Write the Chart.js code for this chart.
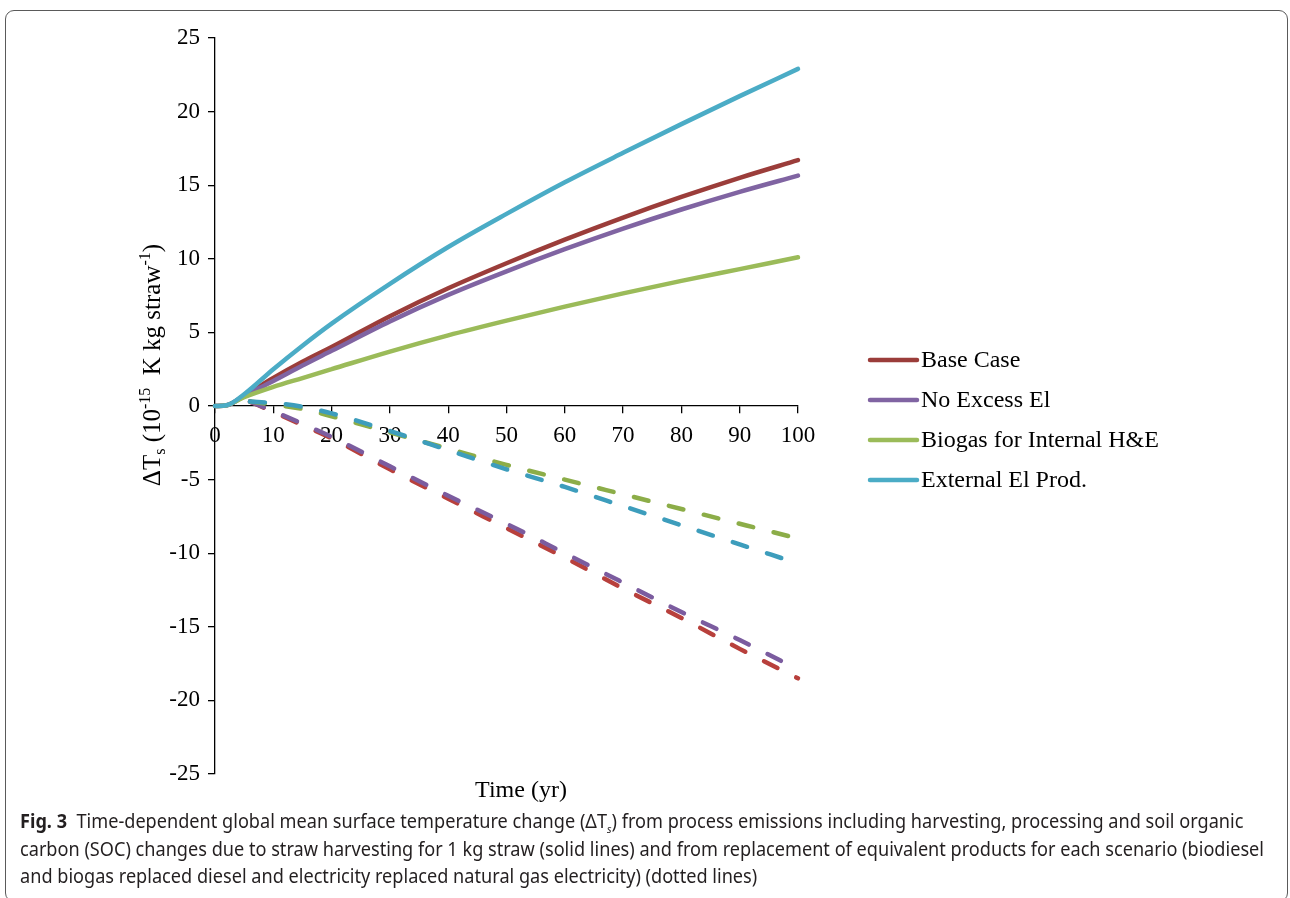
<!DOCTYPE html>
<html>
<head>
<meta charset="utf-8">
<script src="https://cdn.jsdelivr.net/npm/chart.js@4/dist/chart.umd.min.js"></script>
<style>
  body { margin: 0; background: #fff; width: 1290px; height: 898px; position: relative; overflow: hidden; }
  #frame { position: absolute; left: 5px; top: 10px; width: 1283px; height: 892px; border: 1.5px solid #5a5a5a; border-radius: 9px; box-sizing: border-box; }
  #chart { position: absolute; left: 0; top: 0; }
  #caption { position: absolute; left: 20px; top: 808px; font-family: 'Noto Sans'; font-size: 19px; color: #231f20; white-space: nowrap; transform-origin: 0 0; }
  #caption div { display: block; height: 27.5px; line-height: 27.5px; }
  #caption .sub { position: relative; top: 5px; font-size: 11px; font-style: italic; line-height: 0; }
</style>
</head>
<body>
<div id="frame"></div>
<canvas id="chart" width="1290" height="812"></canvas>
<div id="caption">
  <div id="cap1"><b>Fig. 3</b>&nbsp; Time-dependent global mean surface temperature change (ΔT<span class="sub">s</span>) from process emissions including harvesting, processing and soil organic</div>
  <div id="cap2">carbon (SOC) changes due to straw harvesting for 1 kg straw (solid lines) and from replacement of equivalent products for each scenario (biodiesel</div>
  <div id="cap3">and biogas replaced diesel and electricity replaced natural gas electricity) (dotted lines)</div>
</div>
<script>
// years for process emissions (solid) and replacement credits (dashed)
const years = [0, 2, 5, 10, 15, 20, 30, 40, 50, 60, 70, 80, 90, 100];
const dashYears = [6, 10, 15, 20, 30, 40, 50, 60, 70, 80, 90, 100];

const seriesNames = ['Base Case', 'No Excess El', 'Biogas for Internal H&E', 'External El Prod.'];

// solid lines
const baseCase = [0, 0.05, 0.7, 1.9, 3.0, 4.0, 6.1, 8.0, 9.7, 11.3, 12.8, 14.2, 15.5, 16.7];
const noExcessEl = [0, 0.05, 0.7, 1.7, 2.75, 3.75, 5.75, 7.55, 9.15, 10.65, 12.05, 13.35, 14.55, 15.65];
const biogasHE = [0, 0.05, 0.6, 1.3, 1.9, 2.5, 3.7, 4.8, 5.8, 6.75, 7.65, 8.5, 9.3, 10.1];
const externalEl = [0, 0.05, 0.8, 2.5, 4.1, 5.6, 8.3, 10.8, 13.05, 15.2, 17.2, 19.15, 21.05, 22.9];

// dashed lines (replacement)
const baseCaseRep = [0.3, -0.4, -1.3, -2.2, -4.3, -6.3, -8.3, -10.3, -12.4, -14.4, -16.5, -18.5];
const noExcessElRep = [0.3, -0.35, -1.2, -2.1, -4.1, -6.1, -8.0, -10.0, -12.0, -14.0, -15.9, -17.9];
const biogasHERep = [0.3, 0.1, -0.2, -0.7, -1.8, -2.9, -4.0, -5.0, -6.0, -7.0, -8.0, -9.0];
const externalElRep = [0.3, 0.2, -0.05, -0.5, -1.7, -3.0, -4.3, -5.5, -6.8, -8.1, -9.4, -10.7];

const solidColors = ['#9b3d3a', '#8064a2', '#9bbb59', '#4bacc6'];
const dashColors = ['#b8403c', '#7b5c9f', '#8cad48', '#3d9dbc'];

const pts = (xs, ys) => xs.map((x, i) => ({ x, y: ys[i] }));

const solid = [baseCase, noExcessEl, biogasHE, externalEl];
const dashed = [baseCaseRep, noExcessElRep, biogasHERep, externalElRep];
const solidOrder = [3, 2, 1, 0];
const dashOrder = [7, 6, 5, 4];

const datasets = [];
solid.forEach((s, i) => datasets.push({
  label: seriesNames[i],
  data: pts(years, s),
  borderColor: solidColors[i],
  cubicInterpolationMode: 'monotone',
  order: solidOrder[i]
}));
dashed.forEach((s, i) => datasets.push({
  label: seriesNames[i] + ' (replacement)',
  data: pts(dashYears, s),
  borderColor: dashColors[i],
  borderDash: [15, 21],
  cubicInterpolationMode: 'monotone',
  order: dashOrder[i]
}));

const serif = '"Liberation Serif", "Times New Roman", serif';

function drawRich(ctx, parts, x, y) {
  let cx = x;
  parts.forEach(([t, k]) => {
    ctx.font = (k ? 16 : 25) + 'px ' + serif;
    const dy = k === 'sub' ? 5 : k === 'sup' ? -10 : 0;
    ctx.fillText(t, cx, y + dy);
    cx += ctx.measureText(t).width;
  });
  return cx - x;
}
function richWidth(ctx, parts) {
  let w = 0;
  parts.forEach(([t, k]) => {
    ctx.font = (k ? 16 : 25) + 'px ' + serif;
    w += ctx.measureText(t).width;
  });
  return w;
}

const extras = {
  id: 'extras',
  afterDraw(chart) {
    const ctx = chart.ctx;
    ctx.save();
    ctx.fillStyle = '#000';
    ctx.textBaseline = 'alphabetic';
    // y title
    const yParts = [['ΔT'], ['s', 'sub'], [' (10'], ['-15', 'sup'], ['  K kg straw'], ['-1', 'sup'], [')']];
    const w = richWidth(ctx, yParts);
    ctx.save();
    ctx.translate(160, 365);
    ctx.rotate(-Math.PI / 2);
    drawRich(ctx, yParts, -w / 2, 0);
    ctx.restore();
    // x title
    ctx.font = '24px ' + serif;
    ctx.textAlign = 'center';
    ctx.fillText('Time (yr)', 521, 797);
    // legend
    ctx.font = '24px ' + serif;
    ctx.textAlign = 'left';
    ctx.textBaseline = 'middle';
    seriesNames.forEach((name, i) => {
      const y = 360 + i * 40;
      ctx.strokeStyle = solidColors[i];
      ctx.lineWidth = 4.5;
      ctx.lineCap = 'round';
      ctx.beginPath();
      ctx.moveTo(870, y);
      ctx.lineTo(917, y);
      ctx.stroke();
      ctx.fillText(name, 921, y + 1);
    });
    ctx.restore();
  }
};

const tickFont = { family: serif, size: 23 };

new Chart(document.getElementById('chart'), {
  type: 'line',
  data: { datasets },
  options: {
    responsive: false,
    animation: false,
    layout: { padding: { left: 0, top: 38, right: 492, bottom: 38 } },
    plugins: { legend: { display: false }, tooltip: { enabled: false } },
    elements: {
      point: { radius: 0 },
      line: { borderWidth: 4.5, borderCapStyle: 'round', borderJoinStyle: 'round' }
    },
    datasets: { line: { clip: false } },
    scales: {
      x: {
        type: 'linear',
        position: { y: 0 },
        min: 0, max: 100,
        ticks: { stepSize: 10, color: '#000', font: tickFont, padding: 9, maxRotation: 0 },
        grid: { drawOnChartArea: false, tickLength: 7, color: '#000', lineWidth: 1.3 },
        border: { color: '#000', width: 1.3 }
      },
      y: {
        min: -25, max: 25,
        ticks: { stepSize: 5, color: '#000', font: tickFont, padding: 8 },
        grid: { drawOnChartArea: false, tickLength: 7, color: '#000', lineWidth: 1.3 },
        border: { color: '#000', width: 1.3 },
        afterFit(scale) { scale.width = 215; }
      }
    }
  },
  plugins: [extras]
});

// fit caption lines to the original line width
const cap = document.getElementById('caption');
const l2 = document.getElementById('cap2');
const scale = 1244 / l2.getBoundingClientRect().width;
cap.style.transform = 'scaleX(' + scale + ')';
</script>
</body>
</html>
